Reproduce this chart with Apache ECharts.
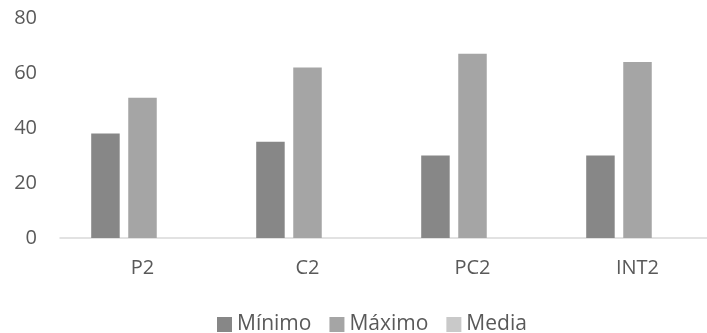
<!DOCTYPE html>
<html>
<head>
<meta charset="utf-8">
<script src="https://cdn.jsdelivr.net/npm/echarts@6/dist/echarts.min.js"></script>
<style>
html,body{margin:0;padding:0;background:#fff;}
#c{width:707px;height:333px;}
</style>
</head>
<body>
<div id="c"></div>
<script>
const categories = ["P2", "C2", "PC2", "INT2"];
const minimo = [38, 35, 30, 30];
const maximo = [51, 62, 67, 64];
const media = [null, null, null, null];
const seriesNames = ["Mínimo", "Máximo", "Media"];
const yTicks = { min: 0, max: 80, interval: 20 };

const colors = ["#878787", "#a5a5a5", "#c9c9c9"];
const txt = "#595959";
const font = "Open Sans";

const chart = echarts.init(document.getElementById('c'), null, { renderer: 'canvas' });
chart.setOption({
  animation: false,
  textStyle: { fontFamily: font },
  color: colors,
  grid: { left: 60, top: 18, width: 660, height: 220, containLabel: false, outerBoundsMode: 'none' },
  legend: {
    top: 314,
    left: 217,
    padding: 0,
    itemWidth: 15,
    itemHeight: 15,
    itemGap: 18,
    icon: 'rect',
    textStyle: { color: txt, fontSize: 21, fontFamily: font },
    data: seriesNames
  },
  xAxis: {
    type: 'category',
    data: categories,
    axisLine: { lineStyle: { color: '#d9d9d9', width: 1.5 } },
    axisTick: { show: false },
    axisLabel: { color: txt, fontSize: 20, margin: 20, fontFamily: font }
  },
  yAxis: {
    type: 'value',
    min: yTicks.min, max: yTicks.max, interval: yTicks.interval,
    axisLine: { show: false },
    axisTick: { show: false },
    splitLine: { show: false },
    axisLabel: { color: txt, fontSize: 20, margin: 23, fontFamily: font }
  },
  series: [
    { name: seriesNames[0], type: 'bar', data: minimo, barWidth: 28.5, barGap: '30%' },
    { name: seriesNames[1], type: 'bar', data: maximo, barWidth: 28.5, barGap: '30%' },
    { name: seriesNames[2], type: 'bar', data: media, barWidth: 28.5, barGap: '30%' }
  ]
});
</script>
</body>
</html>
